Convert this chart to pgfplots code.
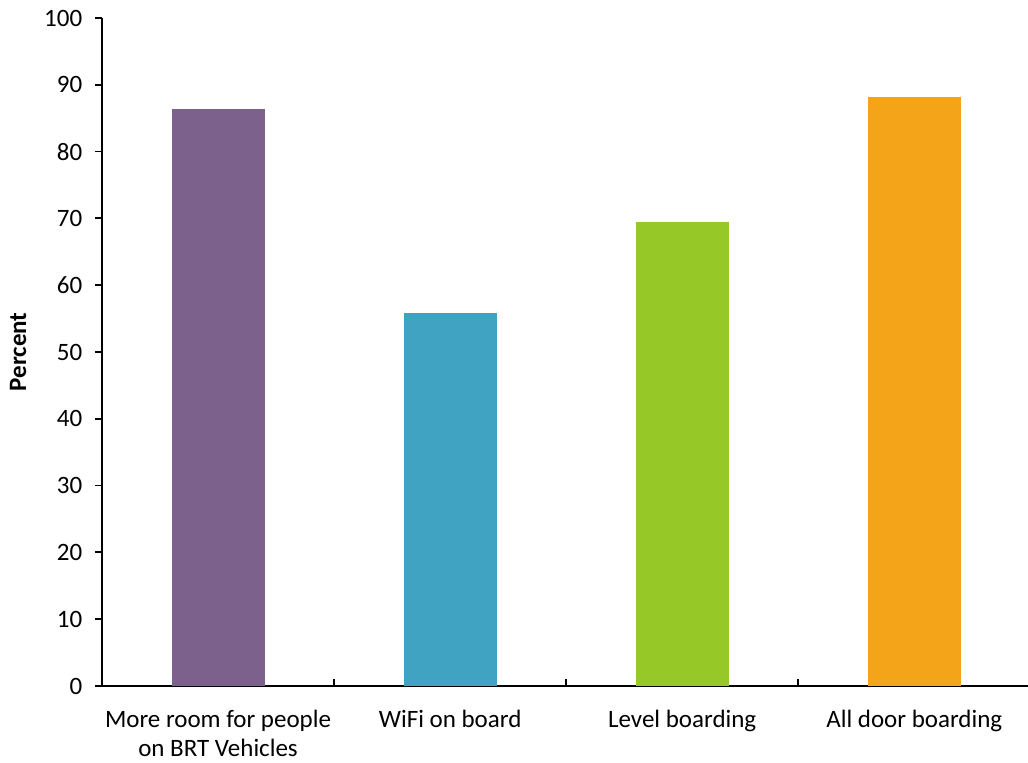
\documentclass[border=0pt]{standalone}
\usepackage{pgfplots}
\pgfplotsset{compat=1.18}
\usepackage{fontspec}
\setmainfont{Carlito}

\definecolor{barpurple}{HTML}{7B618C}
\definecolor{barteal}{HTML}{40A3C1}
\definecolor{bargreen}{HTML}{96C928}
\definecolor{barorange}{HTML}{F4A419}

\begin{document}
\fontsize{12.5}{14.5}\selectfont
\begin{tikzpicture}
\begin{axis}[
  at={(0,0)}, anchor=south west,
  scale only axis,
  width=463pt, height=334pt,
  xmin=-0.5, xmax=3.49,
  ymin=0, ymax=100,
  axis lines*=left,
  axis line style={line width=0.9pt, black},
  ytick={0,10,...,100},
  ytick align=outside,
  major tick length=3.5pt,
  tick style={line width=0.9pt, black},
  xtick={0,1,2,3},
  xticklabels={{More room for people\\on BRT Vehicles},{WiFi on board},{Level boarding},{All door boarding}},
  xticklabel style={align=center, anchor=north, yshift=-4pt, font=\fontsize{12.5}{14.5}\selectfont},
  x tick style={draw=none},
  extra x ticks={0.5,1.5,2.5},
  extra x tick labels={},
  extra x tick style={tick align=inside, major tick length=3.5pt,
    major x tick style={draw=black, line width=0.9pt}},
  yticklabel style={font=\fontsize{12.5}{14.5}\selectfont, xshift=-2pt},
  ylabel={\textbf{Percent}},
  ylabel style={font=\fontsize{12.5}{14.5}\selectfont},
  every axis y label/.style={at={(-42pt,167pt)}, rotate=90, anchor=center},
  /pgf/number format/assume math mode=true,
  ybar, bar width=46.5pt, bar shift=0pt,
  clip=false,
]
\addplot[fill=barpurple, draw=none] coordinates {(0,86.4)};
\addplot[fill=barteal,   draw=none] coordinates {(1,55.9)};
\addplot[fill=bargreen,  draw=none] coordinates {(2,69.5)};
\addplot[fill=barorange, draw=none] coordinates {(3,88.1)};
\end{axis}
\pgfresetboundingbox
\path (-51pt,-38.5pt) rectangle (463pt,343pt);
\end{tikzpicture}
\end{document}
